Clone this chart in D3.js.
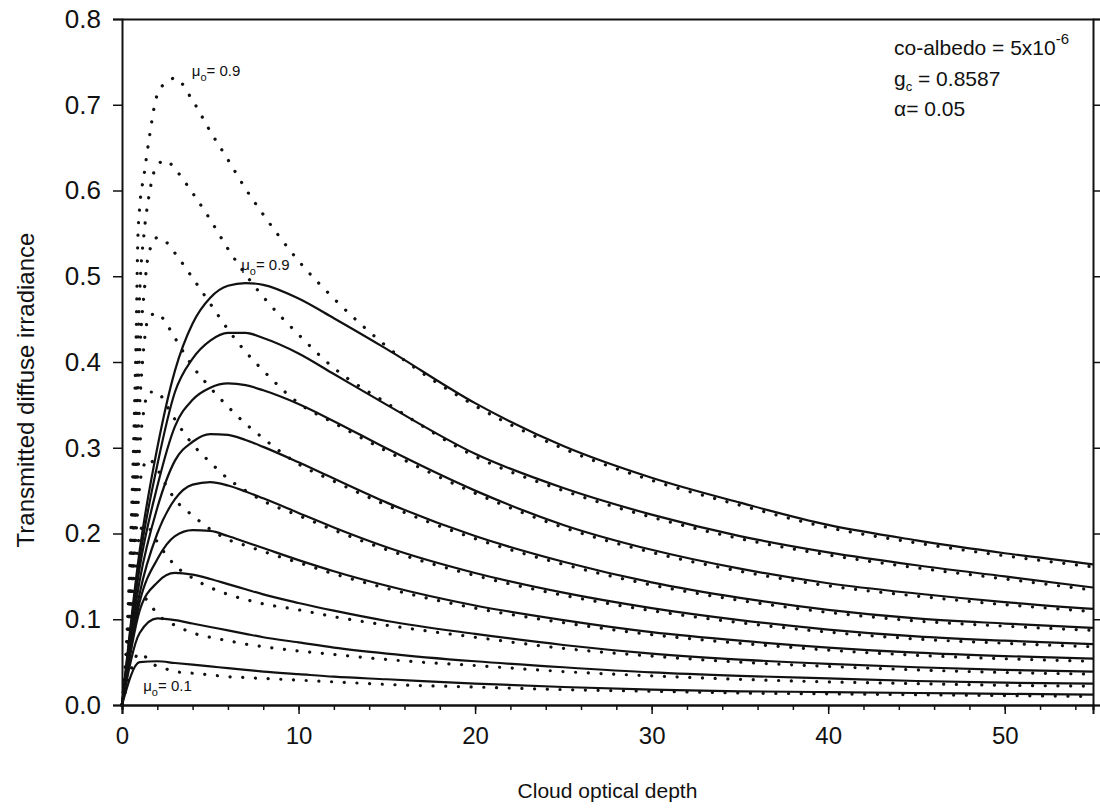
<!DOCTYPE html>
<html>
<head>
<meta charset="utf-8">
<script src="https://cdn.jsdelivr.net/npm/d3@7"></script>
<style>
  body { margin: 0; background: #fff; }
  text { font-family: "Liberation Sans", Arial, sans-serif; fill: #111; }
</style>
</head>
<body>
<svg id="chart" width="1100" height="812"></svg>
<script>
// cloud optical depth grid for the solid curves
const tauSolid = [0, 1, 2, 3, 4, 5, 6, 7, 8, 10, 12, 15, 20, 25, 30, 35, 40, 45, 50, 55];
// solid curves, mu0 = 0.9 ... 0.1
const solid09 = [0, 0.18, 0.30, 0.39, 0.445, 0.475, 0.489, 0.492, 0.490, 0.474, 0.451, 0.415, 0.352, 0.302, 0.265, 0.236, 0.210, 0.192, 0.177, 0.164];
const solid08 = [0, 0.17, 0.28, 0.365, 0.404, 0.425, 0.434, 0.434, 0.428, 0.410, 0.386, 0.350, 0.293, 0.253, 0.222, 0.197, 0.178, 0.163, 0.150, 0.137];
const solid07 = [0, 0.16, 0.255, 0.325, 0.356, 0.370, 0.375, 0.373, 0.367, 0.351, 0.331, 0.299, 0.250, 0.210, 0.181, 0.159, 0.142, 0.130, 0.120, 0.112];
const solid06 = [0, 0.145, 0.23, 0.285, 0.307, 0.316, 0.315, 0.309, 0.301, 0.283, 0.264, 0.236, 0.197, 0.167, 0.143, 0.125, 0.111, 0.101, 0.095, 0.090];
const solid05 = [0, 0.13, 0.20, 0.24, 0.257, 0.260, 0.256, 0.249, 0.241, 0.224, 0.207, 0.184, 0.154, 0.131, 0.113, 0.099, 0.088, 0.080, 0.075, 0.071];
const solid04 = [0, 0.12, 0.17, 0.197, 0.204, 0.203, 0.197, 0.190, 0.183, 0.169, 0.156, 0.139, 0.116, 0.099, 0.085, 0.075, 0.067, 0.061, 0.057, 0.054];
const solid03 = [0, 0.11, 0.143, 0.154, 0.152, 0.147, 0.141, 0.135, 0.129, 0.119, 0.110, 0.098, 0.083, 0.070, 0.060, 0.053, 0.048, 0.044, 0.041, 0.039];
const solid02 = [0, 0.084, 0.101, 0.099, 0.095, 0.091, 0.087, 0.083, 0.079, 0.073, 0.067, 0.060, 0.051, 0.044, 0.038, 0.034, 0.031, 0.028, 0.026, 0.025];
const solid01 = [0, 0.050, 0.051, 0.049, 0.047, 0.045, 0.043, 0.041, 0.039, 0.036, 0.033, 0.030, 0.025, 0.021, 0.018, 0.016, 0.015, 0.014, 0.013, 0.012];

// optical depth grid for the dotted curves
const tauDotted = [0, 0.25, 0.5, 0.65, 0.8, 0.9, 1, 1.25, 1.5, 2, 2.5, 3, 4, 5, 6, 7, 8, 10, 12, 15, 20, 25, 30, 35, 40, 45, 50, 55];
const dotted09 = [0, 0.07, 0.20, 0.30, 0.43, 0.545, 0.58, 0.618, 0.655, 0.712, 0.726, 0.731, 0.705, 0.669, 0.636, 0.602, 0.572, 0.518, 0.474, 0.418, 0.349, 0.299, 0.262, 0.233, 0.207, 0.189, 0.174, 0.161];
const dotted08 = [0, 0.06, 0.17, 0.25, 0.35, 0.42, 0.48, 0.55, 0.59, 0.63, 0.635, 0.625, 0.597, 0.566, 0.532, 0.502, 0.476, 0.432, 0.393, 0.352, 0.290, 0.250, 0.219, 0.194, 0.175, 0.160, 0.147, 0.134];
const dotted07 = [0, 0.05, 0.15, 0.22, 0.30, 0.36, 0.41, 0.48, 0.525, 0.545, 0.540, 0.527, 0.498, 0.468, 0.438, 0.412, 0.390, 0.352, 0.329, 0.296, 0.247, 0.207, 0.178, 0.156, 0.139, 0.127, 0.117, 0.109];
const dotted06 = [0, 0.045, 0.13, 0.19, 0.26, 0.31, 0.35, 0.42, 0.452, 0.457, 0.445, 0.428, 0.395, 0.370, 0.348, 0.328, 0.311, 0.281, 0.261, 0.233, 0.194, 0.164, 0.140, 0.122, 0.108, 0.098, 0.092, 0.087];
const dotted05 = [0, 0.04, 0.115, 0.17, 0.23, 0.27, 0.30, 0.345, 0.365, 0.365, 0.350, 0.333, 0.304, 0.283, 0.264, 0.250, 0.238, 0.221, 0.204, 0.181, 0.151, 0.128, 0.110, 0.096, 0.085, 0.077, 0.072, 0.068];
const dotted04 = [0, 0.035, 0.10, 0.15, 0.20, 0.23, 0.255, 0.28, 0.287, 0.275, 0.256, 0.240, 0.221, 0.205, 0.193, 0.186, 0.179, 0.166, 0.153, 0.136, 0.113, 0.096, 0.082, 0.072, 0.064, 0.058, 0.054, 0.051];
const dotted03 = [0, 0.03, 0.085, 0.12, 0.16, 0.185, 0.20, 0.21, 0.207, 0.19, 0.175, 0.163, 0.148, 0.137, 0.129, 0.123, 0.118, 0.111, 0.103, 0.093, 0.079, 0.066, 0.057, 0.050, 0.045, 0.041, 0.038, 0.036];
const dotted02 = [0, 0.03, 0.07, 0.09, 0.11, 0.118, 0.123, 0.125, 0.12, 0.106, 0.098, 0.093, 0.084, 0.079, 0.075, 0.071, 0.068, 0.063, 0.059, 0.053, 0.046, 0.039, 0.034, 0.030, 0.027, 0.025, 0.023, 0.022];
const dotted01 = [0, 0.02, 0.04, 0.05, 0.057, 0.06, 0.061, 0.058, 0.052, 0.045, 0.042, 0.039, 0.037, 0.035, 0.033, 0.032, 0.031, 0.029, 0.027, 0.024, 0.021, 0.018, 0.016, 0.014, 0.013, 0.012, 0.011, 0.010];

const solidSeries = [solid09, solid08, solid07, solid06, solid05, solid04, solid03, solid02, solid01];
const dottedSeries = [dotted09, dotted08, dotted07, dotted06, dotted05, dotted04, dotted03, dotted02, dotted01];

const xTicks = [0, 10, 20, 30, 40, 50];
const xMinorTicks = d3.range(0, 56, 2);
const yTicks = [0, 0.1, 0.2, 0.3, 0.4, 0.5, 0.6, 0.7, 0.8];

const margin = { top: 19, right: 7, bottom: 107, left: 122 };
const width = 1100 - margin.left - margin.right;
const height = 812 - margin.top - margin.bottom;

const svg = d3.select('#chart');
const g = svg.append('g').attr('transform', `translate(${margin.left},${margin.top})`);

const x = d3.scaleLinear().domain([0, 55]).range([0, width]);
const y = d3.scaleLinear().domain([0, 0.8]).range([height, 0]);

const line = d3.line()
    .x(d => x(d[0]))
    .y(d => y(d[1]))
    .curve(d3.curveMonotoneX);

// dotted curves
g.append('g')
    .selectAll('path')
    .data(dottedSeries)
    .enter()
    .append('path')
    .attr('d', vals => line(tauDotted.map((t, i) => [t, vals[i]])))
    .attr('fill', 'none')
    .attr('stroke', '#111')
    .attr('stroke-width', 3.2)
    .attr('stroke-linecap', 'round')
    .attr('stroke-dasharray', '0.1 12.6');

// solid curves
g.append('g')
    .selectAll('path')
    .data(solidSeries)
    .enter()
    .append('path')
    .attr('d', vals => line(tauSolid.map((t, i) => [t, vals[i]])))
    .attr('fill', 'none')
    .attr('stroke', '#111')
    .attr('stroke-width', 2.2);

// axes
const xAxis = g.append('g')
    .attr('transform', `translate(0,${height})`)
    .call(d3.axisBottom(x).tickValues(xTicks).tickSize(9).tickPadding(13).tickFormat(d3.format('d')));
g.append('g')
    .attr('transform', `translate(0,${height})`)
    .call(d3.axisBottom(x).tickValues(xMinorTicks).tickSize(5).tickFormat(''));
const yAxis = g.append('g')
    .call(d3.axisLeft(y).tickValues(yTicks).tickSize(9).tickPadding(12).tickFormat(d3.format('.1f')));
g.append('g')
    .attr('transform', `translate(${width},0)`)
    .call(d3.axisRight(y).tickValues(yTicks).tickSize(7).tickFormat(''));
g.append('g')
    .call(d3.axisTop(x).tickValues([]).tickSizeOuter(0));

g.selectAll('.domain').attr('stroke', '#111').attr('stroke-width', 2);
g.selectAll('.tick line').attr('stroke', '#111').attr('stroke-width', 1.5);
g.selectAll('.tick text')
    .style('font-family', '"Liberation Sans", Arial, sans-serif')
    .attr('fill', '#111');
xAxis.selectAll('.tick text').style('font-size', '24px');
yAxis.selectAll('.tick text').style('font-size', '26px');

// axis titles
svg.append('text')
    .attr('x', margin.left + width / 2)
    .attr('y', 798)
    .attr('text-anchor', 'middle')
    .style('font-size', '21px')
    .text('Cloud optical depth');
svg.append('text')
    .attr('transform', 'translate(34,390) rotate(-90)')
    .attr('text-anchor', 'middle')
    .style('font-size', '24px')
    .text('Transmitted diffuse irradiance');

// curve annotations
function muLabel(tau, val, txt) {
    const t = g.append('text')
        .attr('x', x(tau))
        .attr('y', y(val))
        .style('font-size', '15px');
    t.append('tspan').text('μ');
    t.append('tspan').attr('dy', 5).style('font-size', '11px').text('o');
    t.append('tspan').attr('dy', -5).text('= ' + txt);
}
muLabel(3.95, 0.733, '0.9');
muLabel(6.75, 0.507, '0.9');
muLabel(1.2, 0.016, '0.1');

// parameter box
const info = svg.append('g').attr('transform', 'translate(894,0)');
const t1 = info.append('text').attr('y', 55).style('font-size', '21px');
t1.append('tspan').text('co-albedo = 5x10');
t1.append('tspan').attr('dy', -11).style('font-size', '15px').text('-6');
const t2 = info.append('text').attr('y', 86).style('font-size', '21px');
t2.append('tspan').text('g');
t2.append('tspan').attr('dy', 5).style('font-size', '13px').text('c');
t2.append('tspan').attr('dy', -5).text(' = 0.8587');
info.append('text').attr('y', 116).style('font-size', '21px').text('α= 0.05');
</script>
</body>
</html>
